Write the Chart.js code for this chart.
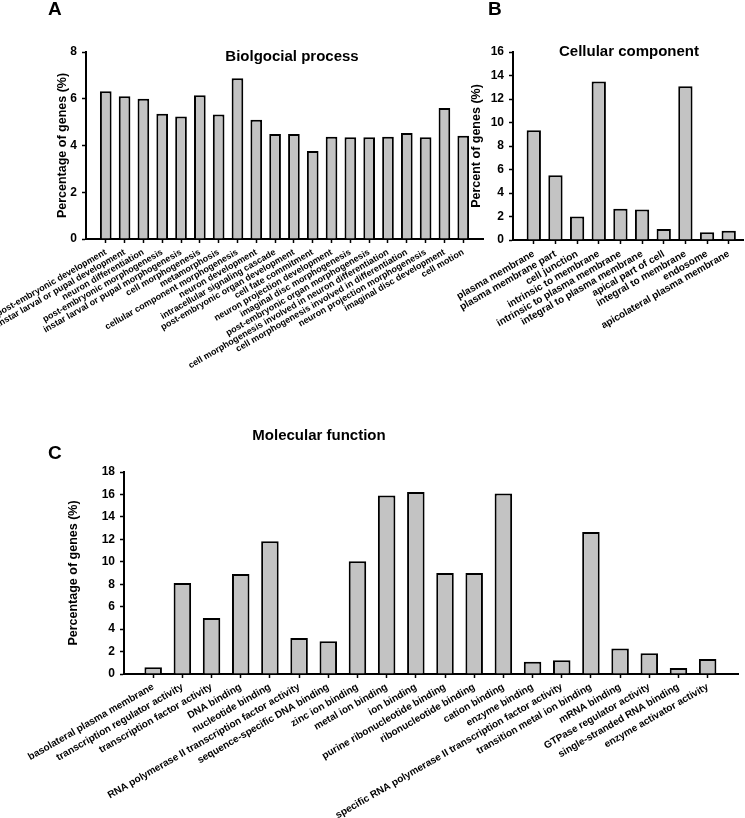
<!DOCTYPE html>
<html>
<head>
    <meta charset="utf-8">
    <title>GO classification</title>
    <script src="https://cdn.jsdelivr.net/npm/chart.js"></script>
    <style>
        body {
            margin: 0;
            background-color: #fff;
        }

        .wrap {
            position: relative;
            width: 745px;
            height: 818px;
            overflow: hidden;
        }

        .wrap canvas {
            position: absolute;
        }

        #chartA { left: 0; top: 0; }
        #chartB { left: 455px; top: 0; }
        #chartC { left: 0; top: 395px; }
    </style>
</head>
<body>
    <div class="wrap">
        <canvas id="chartA" width="490" height="390"></canvas>
        <canvas id="chartB" width="290" height="390"></canvas>
        <canvas id="chartC" width="745" height="423"></canvas>
    </div>

    <script>
        // A - biological process
        var labelsA = [
            'post-embryonic development',
            'instar larval or pupal development',
            'neuron differentiation',
            'post-embryonic morphogenesis',
            'instar larval or pupal morphogenesis',
            'cell morphogenesis',
            'metamorphosis',
            'cellular component morphogenesis',
            'neuron development',
            'intracellular signaling cascade',
            'post-embryonic organ development',
            'cell fate commitment',
            'neuron projection development',
            'imaginal disc morphogenesis',
            'post-embryonic organ morphogenesis',
            'cell morphogenesis involved in neuron differentiation',
            'cell morphogenesis involved in differentiation',
            'neuron projection morphogenesis',
            'imaginal disc development',
            'cell motion'
        ];
        var valuesA = [6.32, 6.11, 6.0, 5.36, 5.24, 6.15, 5.33, 6.88, 5.1, 4.49,
                       4.49, 3.77, 4.37, 4.35, 4.35, 4.37, 4.53, 4.35, 5.6, 4.42];
        var yMaxA = 8;

        // B - cellular component
        var labelsB = [
            'plasma membrane',
            'plasma membrane part',
            'cell junction',
            'intrinsic to membrane',
            'intrinsic to plasma membrane',
            'integral to plasma membrane',
            'apical part of cell',
            'integral to membrane',
            'endosome',
            'apicolateral plasma membrane'
        ];
        var valuesB = [9.35, 5.52, 2.01, 13.48, 2.66, 2.6, 0.93, 13.08, 0.65, 0.79];
        var yMaxB = 16;

        // C - molecular function
        var labelsC = [
            'basolateral plasma membrane',
            'transcription regulator activity',
            'transcription factor activity',
            'DNA binding',
            'nucleotide binding',
            'RNA polymerase II transcription factor activity',
            'sequence-specific DNA binding',
            'zinc ion binding',
            'metal ion binding',
            'ion binding',
            'purine ribonucleotide binding',
            'ribonucleotide binding',
            'cation binding',
            'enzyme binding',
            'specific RNA polymerase II transcription factor activity',
            'transition metal ion binding',
            'mRNA binding',
            'GTPase regulator activity',
            'single-stranded RNA binding',
            'enzyme activator activity'
        ];
        var valuesC = [0.6, 8.1, 4.98, 8.92, 11.83, 3.2, 2.91, 10.05, 15.9, 16.22,
                       9.01, 9.01, 16.08, 1.1, 1.22, 12.66, 2.28, 1.84, 0.53, 1.33];
        var yMaxC = 18;

        var FONT = '"Liberation Sans", Arial, sans-serif';
        Chart.defaults.font.family = FONT;
        Chart.defaults.color = '#000';

        // panel letters and titles drawn inside the canvas
        var panelText = {
            id: 'panelText',
            afterDraw: function (chart, args, opts) {
                var ctx = chart.ctx;
                ctx.save();
                ctx.fillStyle = '#000';
                ctx.textBaseline = 'alphabetic';
                (opts.items || []).forEach(function (t) {
                    ctx.font = 'bold ' + t.size + 'px ' + FONT;
                    ctx.textAlign = t.align || 'left';
                    ctx.fillText(t.text, t.x, t.y);
                });
                ctx.restore();
            }
        };

        function makeChart(id, labels, values, opt) {
            var points = values.map(function (v, i) { return { x: i, y: v }; });
            return new Chart(document.getElementById(id), {
                type: 'bar',
                data: {
                    datasets: [{
                        data: points,
                        backgroundColor: '#c3c3c3',
                        borderColor: '#000',
                        borderWidth: 2,
                        borderSkipped: 'start',
                        barPercentage: opt.barPct,
                        categoryPercentage: 1
                    }]
                },
                options: {
                    responsive: false,
                    animation: false,
                    layout: { padding: opt.padding },
                    plugins: {
                        legend: { display: false },
                        tooltip: { enabled: false },
                        panelText: { items: opt.texts }
                    },
                    scales: {
                        x: {
                            type: 'linear',
                            min: opt.xMin,
                            max: opt.xMax,
                            offset: false,
                            border: { display: true, color: '#000', width: 2 },
                            grid: {
                                offset: false,
                                drawOnChartArea: false,
                                tickLength: 4,
                                tickWidth: 1.5,
                                tickColor: function (c) {
                                    return (c.tick && labels[c.tick.value] !== undefined) ? '#000' : 'rgba(0,0,0,0)';
                                }
                            },
                            ticks: {
                                stepSize: 1,
                                autoSkip: false,
                                includeBounds: false,
                                minRotation: 30,
                                maxRotation: 30,
                                padding: opt.xPad,
                                color: '#000',
                                font: { size: opt.xFont, weight: 'bold' },
                                callback: function (v) {
                                    return labels[v] !== undefined ? labels[v] : '';
                                }
                            },
                            afterFit: function (s) {
                                s.height = opt.xHeight;
                                s.paddingLeft = 0;
                                s.paddingRight = 0;
                            }
                        },
                        y: {
                            min: 0,
                            max: opt.yMax,
                            border: { display: true, color: '#000', width: 2 },
                            grid: { drawOnChartArea: false, tickLength: 4, tickWidth: 1.5, color: '#000' },
                            ticks: {
                                stepSize: 2,
                                padding: 5,
                                color: '#000',
                                font: { size: 12, weight: 'bold' }
                            },
                            title: {
                                display: true,
                                text: opt.yTitle,
                                color: '#000',
                                font: { size: 12.5, weight: 'bold' },
                                padding: { top: 4, bottom: 4 }
                            },
                            afterFit: function (s) {
                                s.width = opt.yWidth;
                            }
                        }
                    }
                },
                plugins: [panelText]
            });
        }

        makeChart('chartA', labelsA, valuesA, {
            yMax: yMaxA, xMin: -1.05, xMax: 20.05, barPct: 0.62, xFont: 9, xPad: 4,
            padding: { left: 51, top: 52, right: 7, bottom: 0 },
            yWidth: 35, xHeight: 151,
            yTitle: 'Percentage of genes (%)',
            texts: [
                { text: 'A', x: 48, y: 15, size: 19 },
                { text: 'Biolgocial process', x: 292, y: 61, size: 15, align: 'center' }
            ]
        });

        makeChart('chartB', labelsB, valuesB, {
            yMax: yMaxB, xMin: -0.96, xMax: 9.66, barPct: 0.66, xFont: 10, xPad: 4,
            padding: { left: 10, top: 52, right: 2, bottom: 0 },
            yWidth: 48, xHeight: 150,
            yTitle: 'Percent of genes (%)',
            texts: [
                { text: 'B', x: 33, y: 15, size: 19 },
                { text: 'Cellular component', x: 174, y: 56, size: 15, align: 'center' }
            ]
        });

        makeChart('chartC', labelsC, valuesC, {
            yMax: yMaxC, xMin: -1, xMax: 20.04, barPct: 0.6, xFont: 10, xPad: 3,
            padding: { left: 62, top: 77, right: 7, bottom: 0 },
            yWidth: 62, xHeight: 144,
            yTitle: 'Percentage of genes (%)',
            texts: [
                { text: 'C', x: 48, y: 64, size: 19 },
                { text: 'Molecular function', x: 319, y: 45, size: 15, align: 'center' }
            ]
        });
    </script>
</body>
</html>
